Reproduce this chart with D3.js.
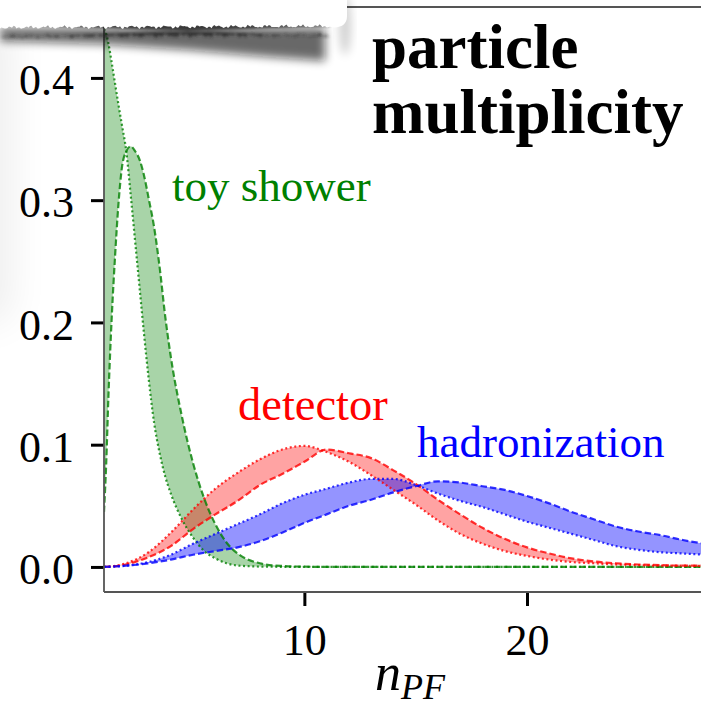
<!DOCTYPE html>
<html>
<head>
<meta charset="utf-8">
<script src="https://cdn.jsdelivr.net/npm/d3@7"></script>
<style>
  html, body { margin: 0; padding: 0; background: #fff; }
  svg { display: block; }
</style>
</head>
<body>
<script>
// ---- data -------------------------------------------------------------
// toy shower: finer multiplicity grid around the sharp low-n peak
const showerX      = [1, 1.1, 1.2, 1.35, 1.5, 1.65, 1.8, 2.0, 2.2, 2.4, 2.6, 2.8, 3.0, 3.25, 3.5, 3.75, 4, 4.5, 5, 5.5, 6, 6.5, 7, 8, 9, 10, 12, 15, 20, 25, 29];
const showerDotted = [0.440, 0.436, 0.428, 0.412, 0.395, 0.378, 0.362, 0.340, 0.304, 0.266, 0.228, 0.190, 0.155, 0.118, 0.093, 0.074, 0.060, 0.039, 0.024, 0.013, 0.007, 0.003, 0.0012, 0.0003, 0.0001, 0, 0, 0, 0, 0, 0];
const showerDashed = [0.045, 0.085, 0.140, 0.205, 0.255, 0.297, 0.326, 0.340, 0.344, 0.340, 0.333, 0.320, 0.302, 0.278, 0.245, 0.205, 0.172, 0.123, 0.085, 0.056, 0.035, 0.020, 0.011, 0.003, 0.0008, 0.0002, 0, 0, 0, 0, 0];

// detector and hadronization: integer multiplicities
const nPF = [1, 2, 3, 4, 5, 6, 7, 8, 9, 10, 11, 12, 13, 14, 15, 16, 17, 18, 19, 20, 21, 22, 23, 24, 25, 26, 27, 28, 29];
const detectorDotted = [0, 0.003, 0.012, 0.028, 0.047, 0.064, 0.077, 0.088, 0.096, 0.099, 0.094, 0.086, 0.075, 0.063, 0.051, 0.038, 0.027, 0.019, 0.013, 0.009, 0.006, 0.004, 0.003, 0.002, 0.0015, 0.001, 0.001, 0.0008, 0.0006];
const detectorDashed = [0, 0.002, 0.008, 0.017, 0.031, 0.043, 0.054, 0.067, 0.076, 0.086, 0.096, 0.093, 0.089, 0.079, 0.068, 0.055, 0.043, 0.032, 0.023, 0.016, 0.011, 0.007, 0.0045, 0.003, 0.002, 0.0015, 0.001, 0.001, 0.0008];
const hadronDotted   = [0, 0.001, 0.004, 0.010, 0.019, 0.027, 0.035, 0.043, 0.052, 0.059, 0.064, 0.069, 0.072, 0.072, 0.067, 0.060, 0.054, 0.049, 0.043, 0.037, 0.032, 0.027, 0.022, 0.017, 0.014, 0.012, 0.011, 0.010, 0.009];
const hadronDashed   = [0, 0.001, 0.003, 0.006, 0.010, 0.013, 0.016, 0.021, 0.028, 0.036, 0.043, 0.050, 0.055, 0.061, 0.066, 0.070, 0.069, 0.066, 0.063, 0.058, 0.052, 0.045, 0.039, 0.033, 0.029, 0.026, 0.022, 0.019, 0.017];

const yTicks = [0.0, 0.1, 0.2, 0.3, 0.4];
const xTicks = [10, 20];
const titleLines = ["particle", "multiplicity"];

// ---- layout -----------------------------------------------------------
const W = 701, H = 711;
const plotLeft = 104, plotRight = 714, plotTop = 7, plotBottom = 592;

const x = d3.scaleLinear().domain([1, 28.4]).range([plotLeft, plotRight]);
const y = d3.scaleLinear().domain([-0.0205, 0.458]).range([plotBottom, plotTop]);

const svg = d3.select("body").append("svg")
  .attr("width", W).attr("height", H)
  .attr("viewBox", `0 0 ${W} ${H}`);

const defs = svg.append("defs");
defs.append("clipPath").attr("id", "plot-clip")
  .append("rect")
  .attr("x", plotLeft).attr("y", plotTop)
  .attr("width", plotRight - plotLeft).attr("height", plotBottom - plotTop);

const blur = (id, sd) => defs.append("filter").attr("id", id)
  .attr("x", "-50%").attr("y", "-50%").attr("width", "200%").attr("height", "200%")
  .append("feGaussianBlur").attr("stdDeviation", sd);
blur("soft2", 1.6);
blur("soft5", 5);
blur("soft20", 20);

// ---- bands ------------------------------------------------------------
const series = [
  { xs: showerX, dotted: showerDotted, dashed: showerDashed, color: "#008000", fillOpacity: 0.34 },
  { xs: nPF, dotted: detectorDotted, dashed: detectorDashed, color: "#ff0000", fillOpacity: 0.36 },
  { xs: nPF, dotted: hadronDotted, dashed: hadronDashed, color: "#0000ff", fillOpacity: 0.42 }
];

const plot = svg.append("g").attr("clip-path", "url(#plot-clip)");

series.forEach(s => {
  const idx = d3.range(s.xs.length);
  const area = d3.area()
    .x(i => x(s.xs[i]))
    .y0(i => y(s.dashed[i]))
    .y1(i => y(s.dotted[i]))
    .curve(d3.curveMonotoneX);
  plot.append("path").datum(idx)
    .attr("d", area)
    .attr("fill", s.color)
    .attr("fill-opacity", s.fillOpacity)
    .attr("stroke", "none");
});

series.forEach(s => {
  const idx = d3.range(s.xs.length);
  const lineOf = vals => d3.line().x(i => x(s.xs[i])).y(i => y(vals[i])).curve(d3.curveMonotoneX);
  plot.append("path").datum(idx)
    .attr("d", lineOf(s.dotted))
    .attr("fill", "none")
    .attr("stroke", s.color).attr("stroke-opacity", 0.8)
    .attr("stroke-width", 2.2)
    .attr("stroke-dasharray", "2,2.6");
  plot.append("path").datum(idx)
    .attr("d", lineOf(s.dashed))
    .attr("fill", "none")
    .attr("stroke", s.color).attr("stroke-opacity", 0.8)
    .attr("stroke-width", 2.2)
    .attr("stroke-dasharray", "6.5,3");
});

// ---- axes -------------------------------------------------------------
const serif = "'Liberation Serif', 'Times New Roman', serif";

const yAxis = svg.append("g")
  .attr("transform", `translate(${plotLeft},0)`)
  .call(d3.axisLeft(y).tickValues(yTicks).tickFormat(d3.format(".1f")).tickSize(13).tickPadding(17));
const xAxis = svg.append("g")
  .attr("transform", `translate(0,${plotBottom})`)
  .call(d3.axisBottom(x).tickValues(xTicks).tickFormat(d3.format("d")).tickSize(14).tickPadding(18));

[yAxis, xAxis].forEach(g => {
  g.select(".domain").remove();
  g.selectAll(".tick line").attr("stroke", "#000").attr("stroke-width", 3);
  g.selectAll(".tick text")
    .attr("fill", "#000")
    .style("font-family", serif)
    .style("font-size", "44px");
});
yAxis.selectAll(".tick text").attr("dy", "0.38em");

// spines
const spines = svg.append("g").attr("stroke", "#555").attr("stroke-width", 1.8).attr("fill", "none");
spines.append("line").attr("x1", plotLeft).attr("x2", plotLeft).attr("y1", plotTop).attr("y2", plotBottom);
spines.append("line").attr("x1", plotLeft).attr("x2", W + 5).attr("y1", plotBottom).attr("y2", plotBottom);
spines.append("line").attr("x1", plotLeft).attr("x2", W + 5).attr("y1", plotTop).attr("y2", plotTop);

// axis title n_PF
const xl = svg.append("text")
  .attr("x", 410).attr("y", 690)
  .attr("text-anchor", "middle")
  .style("font-family", serif).style("font-style", "italic")
  .attr("fill", "#000");
xl.append("tspan").style("font-size", "52px").text("n");
xl.append("tspan").style("font-size", "36px").attr("dy", 9).text("PF");

// ---- band labels ------------------------------------------------------
const labels = [
  { text: "toy shower", x: 172, y: 201, color: "#008000", size: 45 },
  { text: "detector", x: 238, y: 420, color: "#ff0000", size: 46.5 },
  { text: "hadronization", x: 417, y: 457, color: "#0000ff", size: 45 }
];
svg.append("g").selectAll("text").data(labels).join("text")
  .attr("x", d => d.x).attr("y", d => d.y)
  .attr("fill", d => d.color)
  .style("font-family", serif)
  .style("font-size", d => d.size + "px")
  .text(d => d.text);

// ---- title ------------------------------------------------------------
svg.append("g").selectAll("text").data(titleLines).join("text")
  .attr("x", 372)
  .attr("y", (d, i) => 68 + i * 65)
  .style("font-family", serif)
  .style("font-weight", "bold")
  .style("font-size", "63px")
  .attr("fill", "#000")
  .text(d => d);

// ---- torn paper strip over the top-left corner ------------------------
// ragged lower edge from a fixed sum of sines
const edgeY = px => 27.5 + 0.9 * Math.sin(px * 0.37) + 0.7 * Math.sin(px * 1.13 + 1.3)
  + 0.6 * Math.sin(px * 2.71 + 0.4) - 0.004 * px;
const edgePts = d3.range(330, -1, -1.5).map(px => [px, edgeY(px)]);

const paperPath = "M-5,-5 L347,-5 L347,16 Q347,27 334,27.5 " +
  edgePts.map(p => `L${p[0].toFixed(1)},${p[1].toFixed(2)}`).join(" ") + " L-5,28 Z";

// faint left shadow
svg.append("rect")
  .attr("x", -60).attr("y", 20).attr("width", 70).attr("height", 300)
  .attr("fill", "#000").attr("opacity", 0.07)
  .attr("filter", "url(#soft20)");

// broad drop shadow beneath the strip
const broad = "M0,28 L325,28 L325,61 L270,57 L190,50 L100,44 L0,41 Z";
svg.append("path").attr("d", broad)
  .attr("fill", "#111").attr("opacity", 0.62)
  .attr("filter", "url(#soft5)");

// tight dark band right under the ragged edge
const bandPts = edgePts.map(p => [p[0], p[1] + 9 + 0.8 * Math.sin(p[0] * 0.9)]);
const band = "M330,26 " + bandPts.slice().reverse().map(p => `L${p[0].toFixed(1)},${p[1].toFixed(2)}`).join(" ") +
  " L0,24 L330,24 Z";
svg.append("path").attr("d", band)
  .attr("fill", "#222").attr("opacity", 0.85)
  .attr("filter", "url(#soft2)");

// curl shadow at the strip's right end
svg.append("ellipse")
  .attr("cx", 345).attr("cy", 25).attr("rx", 6).attr("ry", 30)
  .attr("fill", "#000").attr("opacity", 0.18)
  .attr("filter", "url(#soft5)");

svg.append("path").attr("d", paperPath)
  .attr("fill", "#fff");
</script>
</body>
</html>
